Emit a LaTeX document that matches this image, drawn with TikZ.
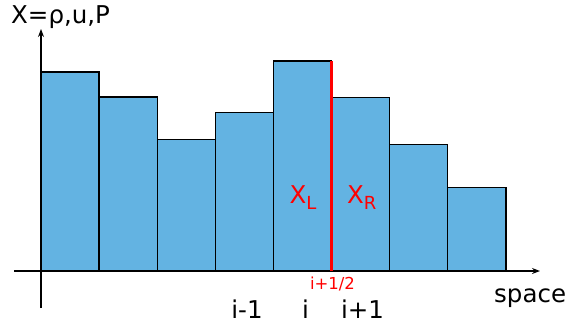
\documentclass[tikz,border=0pt]{standalone}
\usepackage{fontspec}
\setmainfont{DejaVu Sans}
\usetikzlibrary{arrows.meta}
\definecolor{barblue}{RGB}{99,179,226}
\definecolor{lred}{RGB}{255,0,0}
\tikzset{
  bar/.style={fill=barblue,draw=black,line width=1.3pt},
  axis/.style={line width=1.3pt,-{Stealth[length=8pt,width=6pt]}},
  lab/.style={inner sep=0pt,anchor=base,font=\fontsize{24.5}{24.5}\selectfont},
  redlab/.style={inner sep=0pt,anchor=base west,text=lred,font=\fontsize{24.5}{24.5}\selectfont},
}
\newcommand{\subtxt}[1]{\raisebox{-6pt}{\fontsize{18}{18}\selectfont #1}}
\begin{document}
\begin{tikzpicture}[x=1pt,y=-1pt]
\useasboundingbox (0,0) rectangle (569,327);
% bars
\foreach \k/\t in {0/72,1/97,2/139.3,3/112.7,4/61,5/97.3,6/144.3,7/187.7}{
  \pgfmathsetmacro{\xa}{41+58.12*\k}
  \pgfmathsetmacro{\xb}{41+58.12*(\k+1)}
  \draw[bar] (\xa,271) rectangle (\xb,\t);
}
% axes
\coordinate (xs) at (14,271);
\coordinate (xe) at (540,271);
\coordinate (ys) at (41,308);
\coordinate (ye) at (41,29);
\draw[axis] (xs) -- (xe);
\draw[axis] (ys) -- (ye);
% interface
\coordinate (ib) at (331.6,271);
\coordinate (it) at (331.6,61);
\draw[lred,line width=2.8pt] (ib) -- (it);
% labels
\node[lab,anchor=base west] (yl) at (11,23) {X=ρ,u,P};
\node[lab,anchor=base west] (xl) at (494,302) {space};
\node[lab] (im) at (247,318) {i-1};
\node[lab] (ii) at (305.5,318) {i};
\node[lab] (ip) at (362.5,318) {i+1};
\node[inner sep=0pt,anchor=base,text=lred,font=\fontsize{16.5}{16.5}\selectfont] (ih) at (332.5,289) {i+1/2};
\node[redlab] (xL) at (289.5,203) {X\subtxt{L}};
\node[redlab] (xR) at (346.8,203) {X\subtxt{R}};
\end{tikzpicture}
\end{document}
